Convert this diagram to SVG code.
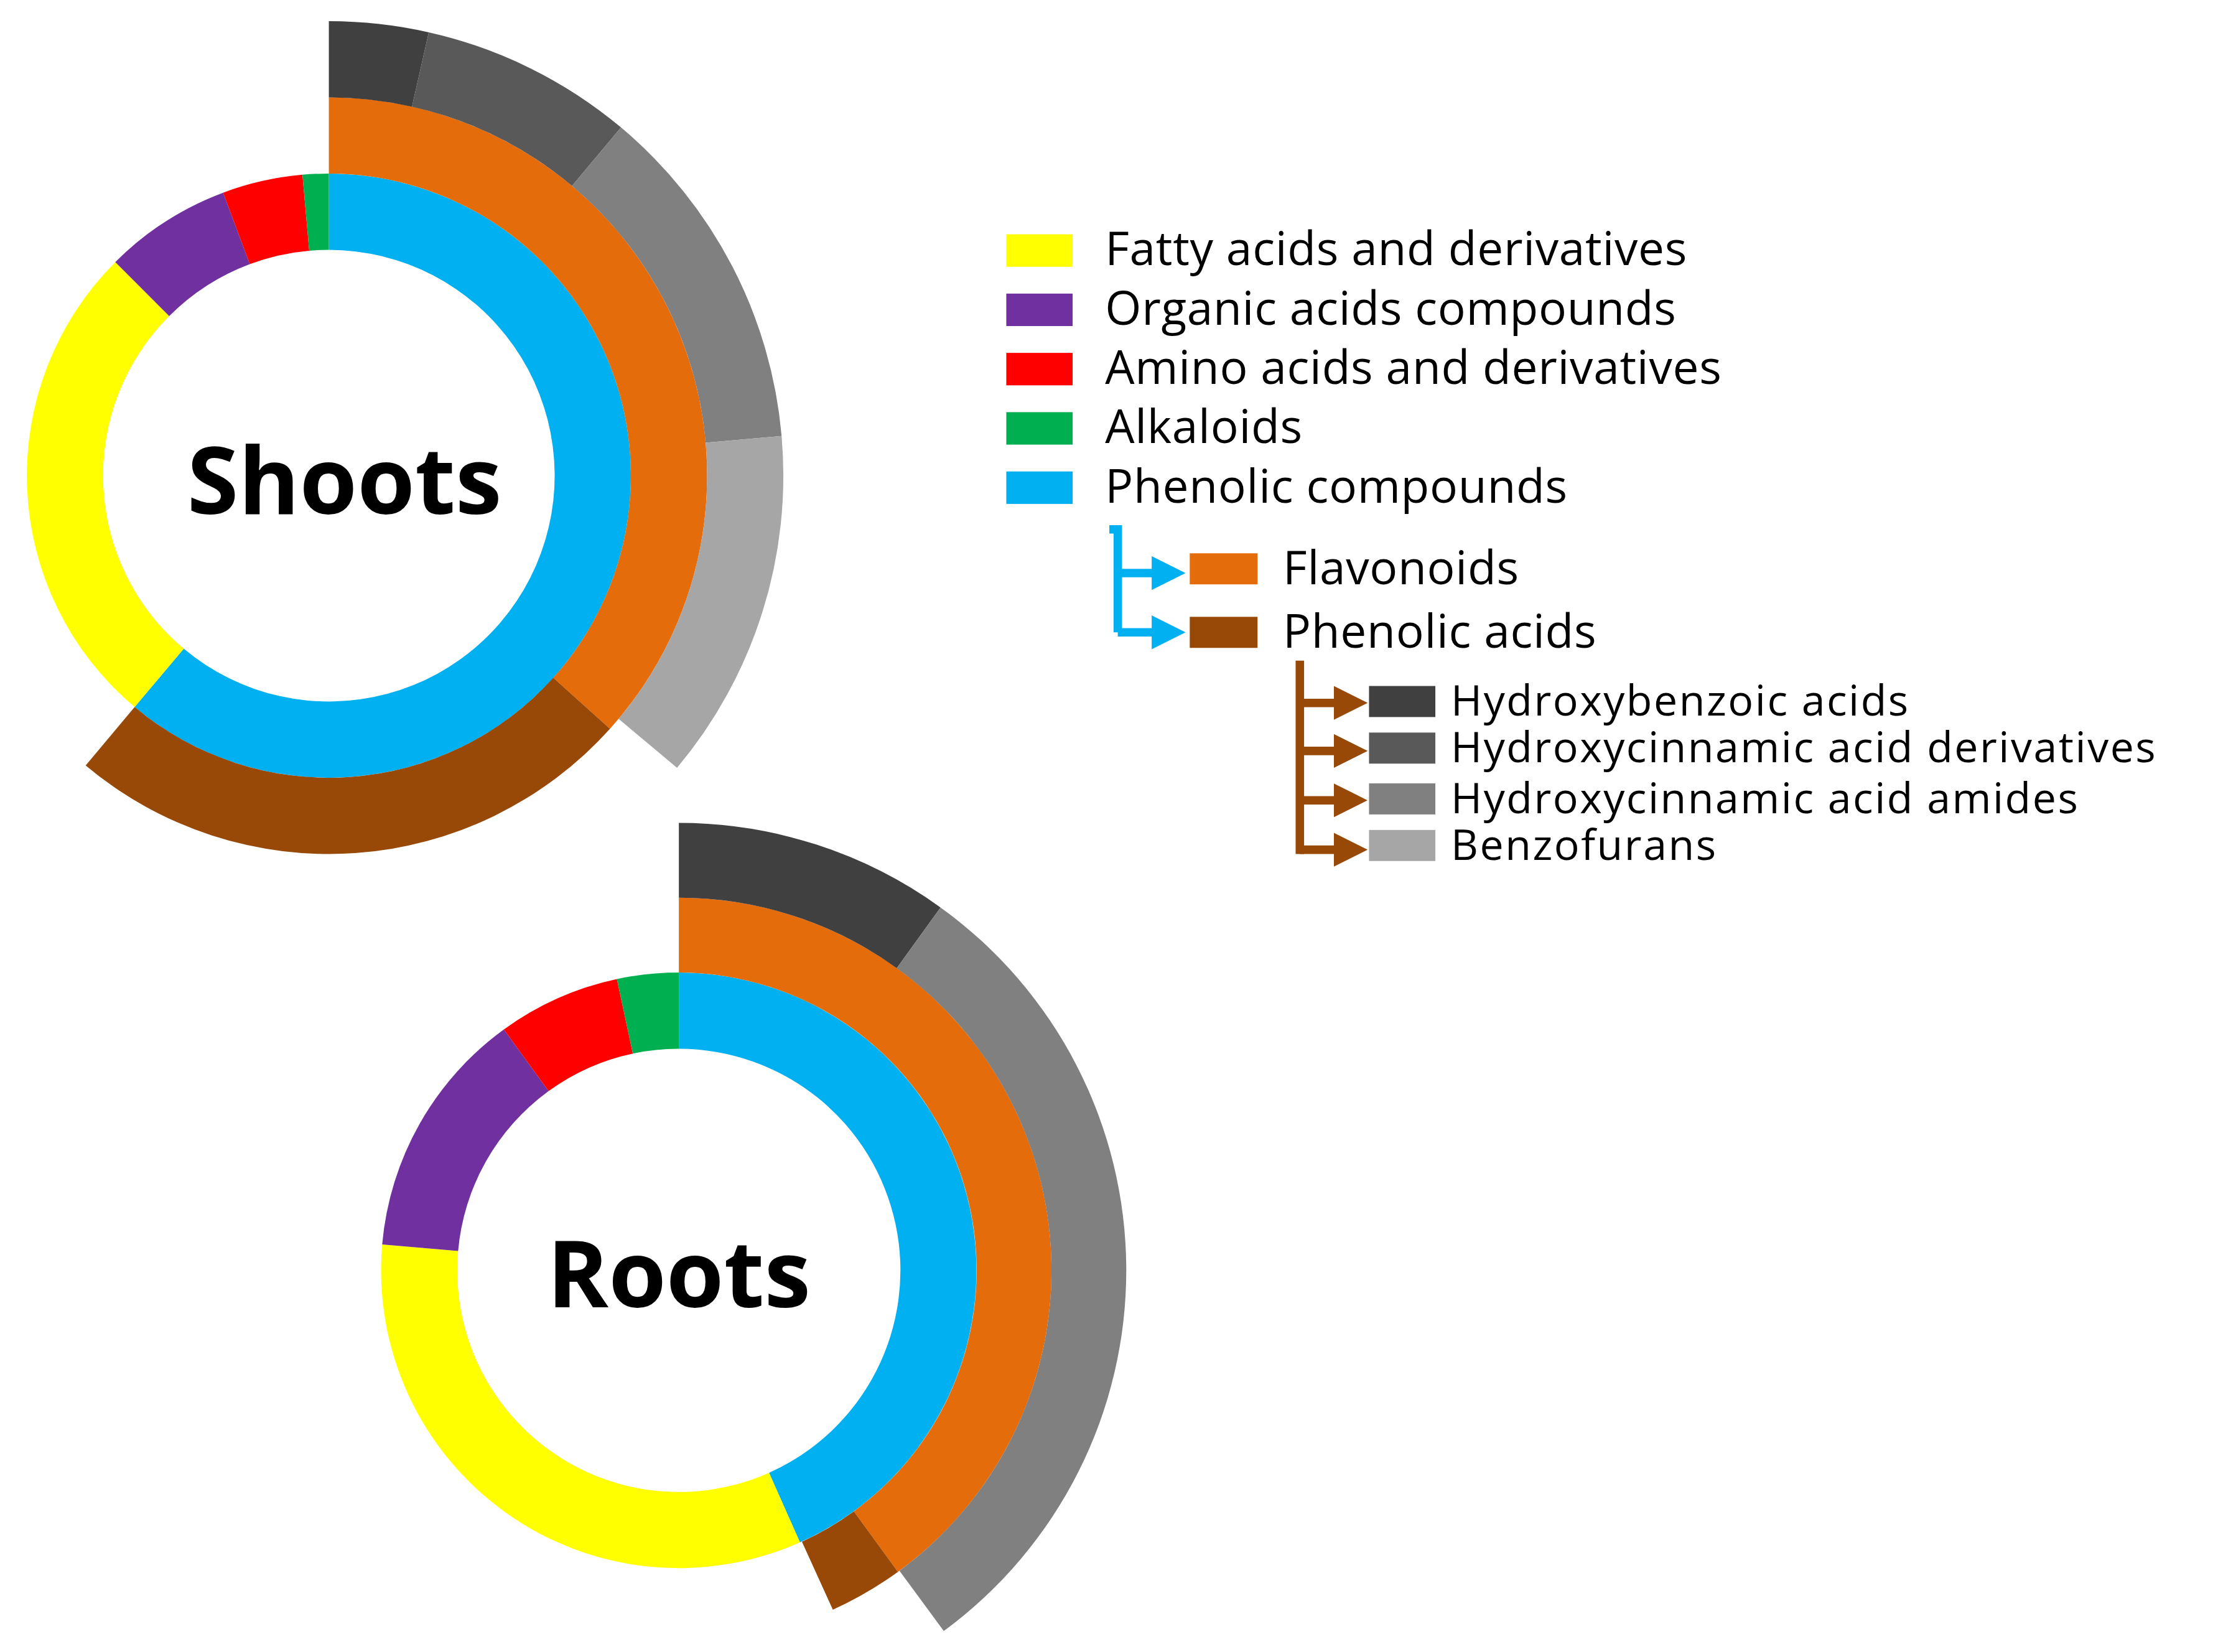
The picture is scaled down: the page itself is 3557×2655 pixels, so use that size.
<svg xmlns="http://www.w3.org/2000/svg" width="3557" height="2655" viewBox="0 0 3557 2655">
<style>
.t{font-family:"Open Sans","DejaVu Sans",sans-serif;fill:#000}
.l{font-size:33px;letter-spacing:0.3px}.s{font-size:30px;letter-spacing:1.1px}
.b{font-family:"Open Sans","DejaVu Sans",sans-serif;font-weight:bold;font-size:66px;text-anchor:middle}
.y{fill:#ffff00}.p{fill:#7030a0}.r{fill:#ff0000}.g{fill:#00b050}.c{fill:#00b0f0}.o{fill:#e46c0a}.w{fill:#984807}
.k1{fill:#404040}.k2{fill:#595959}.k3{fill:#808080}.k4{fill:#a6a6a6}
.cb{stroke:#00b0f0;stroke-width:6;fill:none}.wb{stroke:#984807;stroke-width:6;fill:none}
</style>
<defs>
<marker id="ab" markerWidth="4" markerHeight="4" refX="2" refY="2" orient="auto" markerUnits="strokeWidth"><path d="M0,0L4,2L0,4Z" fill="#00b0f0"/></marker>
<marker id="aw" markerWidth="4" markerHeight="4" refX="2" refY="2" orient="auto" markerUnits="strokeWidth"><path d="M0,0L4,2L0,4Z" fill="#984807"/></marker>
</defs>
<rect width="3557" height="2655" fill="#fff"/>
<g transform="scale(2.2685)">
<g id="shoots">
<path class="c" d="M233,123 A214,214 0 1 1 95.4,500.9 L130.2,459.6 A160,160 0 1 0 233,177 Z"/>
<path class="y" d="M95.4,500.9 A214,214 0 0 1 81.7,185.7 L119.9,223.9 A160,160 0 0 0 130.2,459.6 Z"/>
<path class="p" d="M81.7,185.7 A214,214 0 0 1 158.1,136.5 L177,187.1 A160,160 0 0 0 119.9,223.9 Z"/>
<path class="r" d="M158.1,136.5 A214,214 0 0 1 214.3,123.8 L219.1,177.6 A160,160 0 0 0 177,187.1 Z"/>
<path class="g" d="M214.3,123.8 A214,214 0 0 1 233,123 L233,177 A160,160 0 0 0 219.1,177.6 Z"/>
<path class="o" d="M233,69 A268,268 0 0 1 432.2,516.3 L392,480.2 A214,214 0 0 0 233,123 Z"/>
<path class="w" d="M432.2,516.3 A268,268 0 0 1 60.7,542.3 L95.4,500.9 A214,214 0 0 0 392,480.2 Z"/>
<path class="k1" d="M233,15 A322,322 0 0 1 303.8,22.9 L291.9,75.6 A268,268 0 0 0 233,69 Z"/>
<path class="k2" d="M303.8,22.9 A322,322 0 0 1 440,90.3 L405.3,131.7 A268,268 0 0 0 291.9,75.6 Z"/>
<path class="k3" d="M440,90.3 A322,322 0 0 1 553.8,308.9 L500,313.6 A268,268 0 0 0 405.3,131.7 Z"/>
<path class="k4" d="M553.8,308.9 A322,322 0 0 1 479.7,544 L438.3,509.3 A268,268 0 0 0 500,313.6 Z"/>
<text class="b" x="244" y="364">Shoots</text>
</g>
<g id="roots">
<path class="c" d="M481,689 A211,211 0 0 1 566.8,1092.7 L544.9,1043.4 A157,157 0 0 0 481,743 Z"/>
<path class="y" d="M566.8,1092.7 A211,211 0 0 1 270.8,881.6 L324.6,886.3 A157,157 0 0 0 544.9,1043.4 Z"/>
<path class="p" d="M270.8,881.6 A211,211 0 0 1 357,729.3 L388.7,773 A157,157 0 0 0 324.6,886.3 Z"/>
<path class="r" d="M357,729.3 A211,211 0 0 1 437.1,693.6 L448.4,746.4 A157,157 0 0 0 388.7,773 Z"/>
<path class="g" d="M437.1,693.6 A211,211 0 0 1 481,689 L481,743 A157,157 0 0 0 448.4,746.4 Z"/>
<path class="o" d="M481,636 A264,264 0 0 1 636.2,1113.6 L605,1070.7 A211,211 0 0 0 481,689 Z"/>
<path class="w" d="M636.2,1113.6 A264,264 0 0 1 590.1,1140.4 L568.2,1092.2 A211,211 0 0 0 605,1070.7 Z"/>
<path class="k1" d="M481,583 A317,317 0 0 1 666.4,642.9 L635.4,685.9 A264,264 0 0 0 481,636 Z"/>
<path class="k3" d="M666.4,642.9 A317,317 0 0 1 668.7,1155.5 L637.3,1112.8 A264,264 0 0 0 635.4,685.9 Z"/>
<text class="b" x="481" y="926">Roots</text>
</g>
<g id="legend">
<rect class="y" x="713" y="166" width="47" height="23"/><text class="t l" x="783" y="188">Fatty acids and derivatives</text>
<rect class="p" x="713" y="208" width="47" height="23"/><text class="t l" x="783" y="230">Organic acids compounds</text>
<rect class="r" x="713" y="250" width="47" height="23"/><text class="t l" x="783" y="272">Amino acids and derivatives</text>
<rect class="g" x="713" y="292" width="47" height="23"/><text class="t l" x="783" y="314">Alkaloids</text>
<rect class="c" x="713" y="334" width="47" height="23"/><text class="t l" x="783" y="356">Phenolic compounds</text>
<rect class="o" x="843" y="392" width="48" height="22"/><text class="t l" x="909" y="414">Flavonoids</text>
<rect class="w" x="843" y="437" width="48" height="22"/><text class="t l" x="909" y="459">Phenolic acids</text>
<rect class="k1" x="970" y="486" width="47" height="22"/><text class="t s" x="1028" y="507">Hydroxybenzoic acids</text>
<rect class="k2" x="970" y="519" width="47" height="22"/><text class="t s" x="1028" y="540">Hydroxycinnamic acid derivatives</text>
<rect class="k3" x="970" y="555" width="47" height="22"/><text class="t s" x="1028" y="576">Hydroxycinnamic acid amides</text>
<rect class="k4" x="970" y="588" width="47" height="22"/><text class="t s" x="1028" y="609">Benzofurans</text>
</g>
<g id="connectors">
<path class="cb" d="M786,375 H792 V448"/>
<path class="cb" d="M792,406 H828" marker-end="url(#ab)"/>
<path class="cb" d="M792,448 H828" marker-end="url(#ab)"/>
<path class="wb" d="M921,468 V605"/>
<path class="wb" d="M921,498 H957" marker-end="url(#aw)"/>
<path class="wb" d="M921,532 H957" marker-end="url(#aw)"/>
<path class="wb" d="M921,567 H957" marker-end="url(#aw)"/>
<path class="wb" d="M921,602 H957" marker-end="url(#aw)"/>
</g>
</g>
</svg>
